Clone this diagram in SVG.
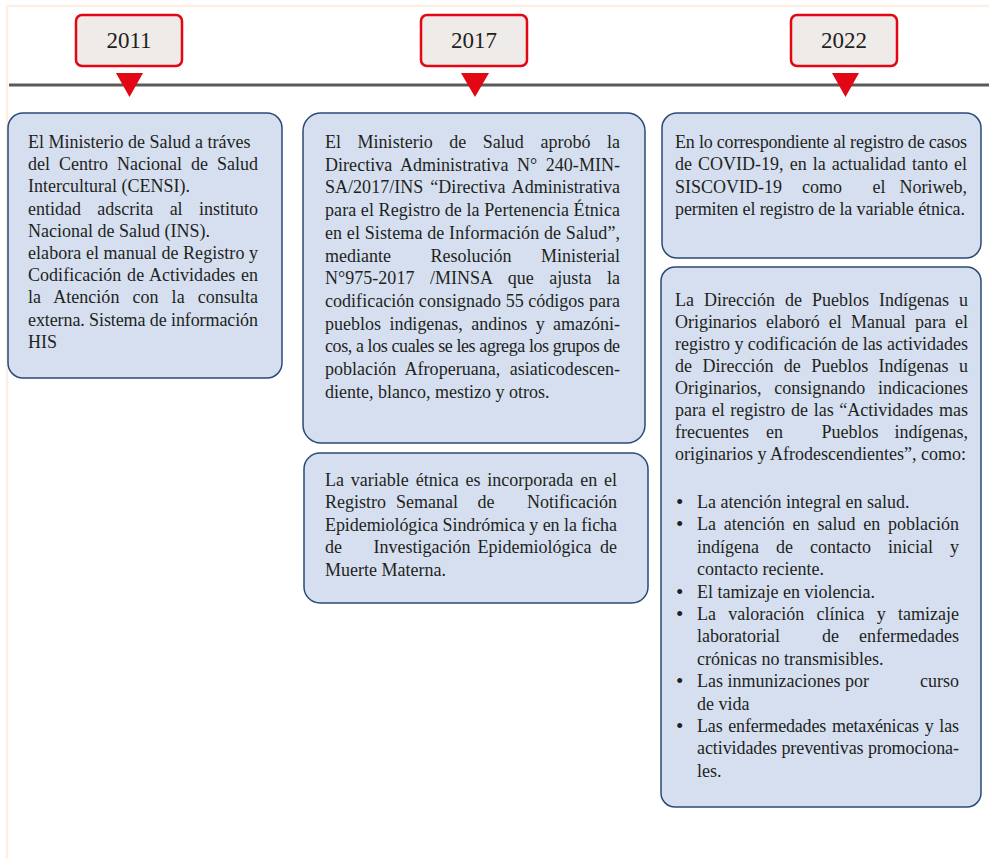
<svg xmlns="http://www.w3.org/2000/svg" width="989" height="859" viewBox="0 0 989 859">
<style>
.t{font-family:"Liberation Serif","Times New Roman",serif;font-size:18px;fill:#231F20}
.b{font-family:"Liberation Serif","Times New Roman",serif;font-size:21px;fill:#231F20}
.yr{font-family:"Liberation Serif","Times New Roman",serif;font-size:23px;fill:#231F20;text-anchor:middle}
.box{fill:#D5DFF0;stroke:#2C4A78;stroke-width:1.5}
.ybox{fill:#EFEBE8;stroke:#E30613;stroke-width:2.5}
.tri{fill:#E30613}
.m{text-anchor:middle}
.e{text-anchor:end}
</style>
<rect x="0" y="0" width="989" height="859" fill="#FFFFFF"/>
<path d="M7 859 V6 H989" fill="none" stroke="#FCEFE5" stroke-width="2.5"/>
<g id="connectors">
<line x1="9" y1="85" x2="989" y2="85" stroke="#5A5A5A" stroke-width="3"/>
<polygon class="tri" points="116,73 143,73 129.5,97"/>
<polygon class="tri" points="461,73 489,73 475,97"/>
<polygon class="tri" points="832,73 859,73 845.5,97"/>
</g>
<g id="year-2011">
<rect class="ybox" x="76" y="15" width="106" height="51" rx="6"/>
<text class="yr" x="129" y="48">2011</text>
</g>
<g id="year-2017">
<rect class="ybox" x="421" y="15" width="106" height="51" rx="6"/>
<text class="yr" x="474" y="48">2017</text>
</g>
<g id="year-2022">
<rect class="ybox" x="791" y="15" width="106" height="51" rx="6"/>
<text class="yr" x="844" y="48">2022</text>
</g>
<g id="box-2011">
<rect class="box" x="8" y="113" width="274" height="265" rx="15"/>
<text class="t" x="28" y="148">El Ministerio de Salud a tráves</text>
<text class="t" x="28" y="170.2" textLength="230" lengthAdjust="spacing" style="word-spacing:4.5px">del Centro Nacional de Salud</text>
<text class="t" x="28" y="192.4">Intercultural (CENSI).</text>
<text class="t" x="28" y="214.6" textLength="230" lengthAdjust="spacing" style="word-spacing:11.8px">entidad adscrita al instituto</text>
<text class="t" x="28" y="236.8">Nacional de Salud (INS).</text>
<text class="t" x="28" y="259" textLength="230" lengthAdjust="spacing">elabora el manual de Registro y</text>
<text class="t" x="28" y="281.2" textLength="230" lengthAdjust="spacing" style="word-spacing:1.2px">Codificación de Actividades en</text>
<text class="t" x="28" y="303.4" textLength="230" lengthAdjust="spacing" style="word-spacing:8.5px">la Atención con la consulta</text>
<text class="t" x="28" y="325.6" textLength="230" lengthAdjust="spacing">externa. Sistema de información</text>
<text class="t" x="28" y="347.8">HIS</text>
</g>
<g id="box-2017-a">
<rect class="box" x="303" y="113" width="342" height="330" rx="18"/>
<text class="t" x="325" y="148" textLength="295" lengthAdjust="spacing" style="word-spacing:12px">El Ministerio de Salud aprobó la</text>
<text class="t" x="325" y="170.7" textLength="295" lengthAdjust="spacing" style="word-spacing:4px">Directiva Administrativa N° 240-MIN-</text>
<text class="t" x="325" y="193.4" textLength="295" lengthAdjust="spacing" style="word-spacing:2.5px">SA/2017/INS “Directiva Administrativa</text>
<text class="t" x="325" y="216.1" textLength="295" lengthAdjust="spacing">para el Registro de la Pertenencia Étnica</text>
<text class="t" x="325" y="238.8" textLength="295" lengthAdjust="spacing">en el Sistema de Información de Salud”,</text>
<text class="t" x="325" y="261.5">mediante</text>
<text class="t m" x="471" y="261.5">Resolución</text>
<text class="t e" x="620" y="261.5">Ministerial</text>
<text class="t" x="325" y="284.2" textLength="295" lengthAdjust="spacing" style="word-spacing:11px">N°975-2017 /MINSA que ajusta la</text>
<text class="t" x="325" y="306.9" textLength="295" lengthAdjust="spacing">codificación consignado 55 códigos para</text>
<text class="t" x="325" y="329.6" textLength="295" lengthAdjust="spacing" style="word-spacing:3.9px">pueblos indigenas, andinos y amazóni-</text>
<text class="t" x="325" y="352.3" textLength="295" lengthAdjust="spacing">cos, a los cuales se les agrega los grupos de</text>
<text class="t" x="325" y="375" textLength="295" lengthAdjust="spacing" style="word-spacing:4.8px">población Afroperuana, asiaticodescen-</text>
<text class="t" x="325" y="397.7">diente, blanco, mestizo y otros.</text>
</g>
<g id="box-2017-b">
<rect class="box" x="304" y="453" width="344" height="150" rx="16"/>
<text class="t" x="325" y="486" textLength="292" lengthAdjust="spacing" style="word-spacing:2.3px">La variable étnica es incorporada en el</text>
<text class="t" x="325" y="508.4">Registro</text>
<text class="t m" x="427" y="508.4">Semanal</text>
<text class="t m" x="486" y="508.4">de</text>
<text class="t e" x="617" y="508.4">Notificación</text>
<text class="t" x="325" y="530.8" textLength="292" lengthAdjust="spacing">Epidemiológica Sindrómica y en la ficha</text>
<text class="t" x="325" y="553.2">de</text>
<text class="t m" x="422" y="553.2">Investigación</text>
<text class="t m" x="534.5" y="553.2">Epidemiológica</text>
<text class="t e" x="617" y="553.2">de</text>
<text class="t" x="325" y="575.6">Muerte Materna.</text>
</g>
<g id="box-2022-a">
<rect class="box" x="662" y="113" width="319" height="145" rx="15"/>
<text class="t" x="675" y="148" textLength="292" lengthAdjust="spacing">En lo correspondiente al registro de casos</text>
<text class="t" x="675" y="170.3" textLength="292" lengthAdjust="spacing" style="word-spacing:1.6px">de COVID-19, en la actualidad tanto el</text>
<text class="t" x="675" y="192.6">SISCOVID-19</text>
<text class="t m" x="822" y="192.6">como</text>
<text class="t m" x="879" y="192.6">el</text>
<text class="t e" x="967" y="192.6">Noriweb,</text>
<text class="t" x="675" y="214.9" textLength="290" lengthAdjust="spacing">permiten el registro de la variable étnica.</text>
</g>
<g id="box-2022-b">
<rect class="box" x="661" y="267" width="320" height="540" rx="14"/>
<text class="t" x="675" y="306" textLength="293" lengthAdjust="spacing" style="word-spacing:5.5px">La Dirección de Pueblos Indígenas u</text>
<text class="t" x="675" y="328" textLength="293" lengthAdjust="spacing" style="word-spacing:4.7px">Originarios elaboró el Manual para el</text>
<text class="t" x="675" y="350" textLength="293" lengthAdjust="spacing">registro y codificación de las actividades</text>
<text class="t" x="675" y="372" textLength="293" lengthAdjust="spacing" style="word-spacing:5.9px">de Dirección de Pueblos Indígenas u</text>
<text class="t" x="675" y="394" textLength="293" lengthAdjust="spacing" style="word-spacing:8.2px">Originarios, consignando indicaciones</text>
<text class="t" x="675" y="416" textLength="293" lengthAdjust="spacing" style="word-spacing:1.2px">para el registro de las “Actividades mas</text>
<text class="t" x="675" y="438">frecuentes</text>
<text class="t" x="766" y="438">en</text>
<text class="t m" x="850" y="438">Pueblos</text>
<text class="t e" x="968" y="438">indígenas,</text>
<text class="t" x="675" y="460">originarios y Afrodescendientes”, como:</text>
<text class="b" x="676" y="509">•</text>
<text class="t" x="697" y="508">La atención integral en salud.</text>
<text class="b" x="676" y="531.4">•</text>
<text class="t" x="697" y="530.4" textLength="262" lengthAdjust="spacing" style="word-spacing:3.3px">La atención en salud en población</text>
<text class="t" x="697" y="552.8" textLength="262" lengthAdjust="spacing" style="word-spacing:12.5px">indígena de contacto inicial y</text>
<text class="t" x="697" y="575.2">contacto reciente.</text>
<text class="b" x="676" y="598.6">•</text>
<text class="t" x="697" y="597.6">El tamizaje en violencia.</text>
<text class="b" x="676" y="621">•</text>
<text class="t" x="697" y="620" textLength="262" lengthAdjust="spacing" style="word-spacing:7.7px">La valoración clínica y tamizaje</text>
<text class="t" x="697" y="642.4">laboratorial</text>
<text class="t m" x="830.5" y="642.4">de</text>
<text class="t e" x="959" y="642.4">enfermedades</text>
<text class="t" x="697" y="664.8">crónicas no transmisibles.</text>
<text class="b" x="676" y="688.2">•</text>
<text class="t" x="697" y="687.2">Las inmunizaciones por</text>
<text class="t e" x="959" y="687.2">curso</text>
<text class="t" x="697" y="709.6">de vida</text>
<text class="b" x="676" y="733">•</text>
<text class="t" x="697" y="732" textLength="262" lengthAdjust="spacing" style="word-spacing:1.5px">Las enfermedades metaxénicas y las</text>
<text class="t" x="697" y="754.4" textLength="262" lengthAdjust="spacing">actividades preventivas promociona-</text>
<text class="t" x="697" y="776.8">les.</text>
</g>
</svg>
